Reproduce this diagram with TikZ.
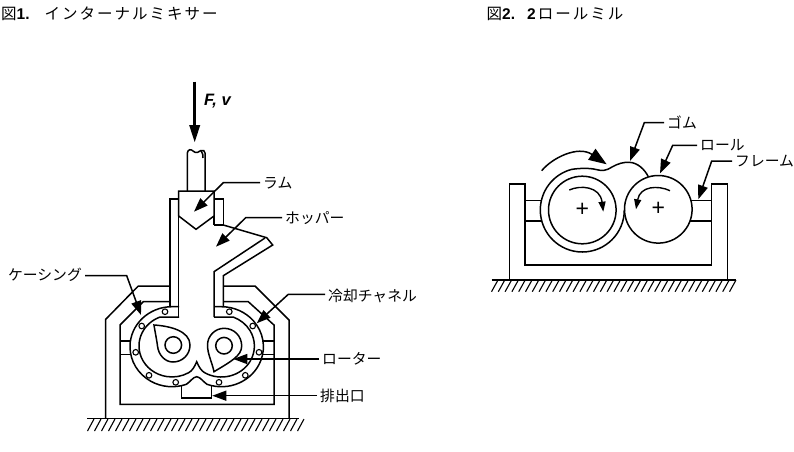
\documentclass[tikz,border=0pt]{standalone}
\usepackage{fontspec}
\setmainfont{Noto Sans CJK JP}
\newfontfamily\latinfont{Liberation Sans}
\newfontfamily\headfont[LetterSpace=13]{Noto Sans CJK JP}
\usetikzlibrary{arrows.meta}
\tikzset{
  part/.style={line width=1.5pt,line join=miter},
  hatchline/.style={line width=1.1pt},
  bolt/.style={line width=1.1pt},
  leader/.style={line width=1.5pt,-{Triangle[length=14pt,width=10pt]}},
  turn/.style={line width=1.4pt,-{Triangle[length=10pt,width=7pt]}},
  labeltext/.style={font=\fontsize{14.8}{17}\selectfont,anchor=west,inner sep=3pt},
  headtext/.style={font=\fontsize{15.5}{18}\selectfont,anchor=west,inner sep=0pt}
}
\begin{document}
\begin{tikzpicture}[x=1pt,y=1pt,yscale=-1]
\useasboundingbox (0,0) rectangle (794,451);

\node[headtext] (headone) at (1,14) {図{\latinfont\bfseries 1.}\hspace{15pt}{\headfont インターナルミキサー}};
\node[headtext] (headtwo) at (486.5,14) {図{\latinfont\bfseries 2.}\hspace{12pt}{\latinfont\bfseries 2}\hspace{2pt}{\headfont ロールミル}};

% mixer: ram and hopper
\coordinate (forcestart) at (194.7,81.7);
\coordinate (forcetip) at (194.7,143);
\draw [line width=3.5pt,-{Triangle[length=18pt,width=10pt]}] (forcestart) -- (forcetip);
\node [font=\latinfont\bfseries\itshape\fontsize{16.5}{18}\selectfont,anchor=west,inner sep=0pt] (forcelabel) at (204,101) {F, v};
\draw [part] (187.3,191) -- (187.3,153) .. controls (188,149) and (191,149) .. (193,151) .. controls (196,154) and (199,152) .. (201,150.5) .. controls (203,149.5) and (205,151) .. (205,153) -- (205,191);
\draw [part] (201,150.5) .. controls (203,153) and (203,156) .. (203,158);
\draw [part] (178.7,216) -- (178.7,191) -- (214,191) -- (214,216) -- (196,229.3) -- cycle;
\draw [part] (178.7,199) -- (170,199) -- (170,306.7);
\draw [part] (178.7,216) -- (178.7,317);
\draw [part] (214,199) -- (223.3,199) -- (223.3,225) -- (214,225);
\draw [part] (214,216) -- (214,225);
\draw [part] (223.3,225) -- (266.7,237.7) -- (272.7,245) -- (223.3,275.7) -- (223.3,306.7);
\draw [part] (265,238) -- (214,271.7) -- (214,317);

% mixer: casing
\draw [part] (170,286) -- (138.3,286) -- (105.7,319.3) -- (105.7,418.7);
\draw [part] (223.3,286) -- (255,286) -- (289,320) -- (289,418.7);
\draw [part] (170,301.7) -- (143.3,301.7) -- (120,325) -- (120,404.3) -- (274,404.3) -- (274,325) -- (248.3,301.7) -- (223.3,301.7);
\draw [part] (120,341) -- (131,341);
\draw [part] (120,354.3) -- (131,354.3);
\draw [part] (263,341) -- (274,341);
\draw [part] (263,354.3) -- (274,354.3);
\draw [part] (179,306.7) -- (172,306.7) arc [start angle=-90,end angle=-290,x radius=42pt,y radius=40pt]
  .. controls (190,382) and (193,377) .. (196.7,376.7) .. controls (200.4,377) and (203.4,382) .. (207.04,384.3)
  arc [start angle=110,end angle=-90,x radius=42pt,y radius=40pt] -- (214,306.7);
\draw [part] (179,317) -- (160.17,317) arc [start angle=-111,end angle=-300,x radius=33pt,y radius=31pt]
  .. controls (192,371) and (194.5,367) .. (196.7,361.7) .. controls (198.9,367) and (201.4,371) .. (204.9,372.85)
  arc [start angle=120,end angle=-69,x radius=33pt,y radius=31pt] -- (214,317);
\draw [part] (181.7,385) -- (181.7,398) -- (211.7,398) -- (211.7,385);

% mixer: bolts
\draw [bolt] (165,311.7) circle (2.8pt);
\draw [bolt] (141.7,326) circle (2.8pt);
\draw [bolt] (135.7,352.3) circle (2.8pt);
\draw [bolt] (149,375.3) circle (2.8pt);
\draw [bolt] (175.7,382.3) circle (2.8pt);
\draw [bolt] (219,382.3) circle (2.8pt);
\draw [bolt] (245.3,375.3) circle (2.8pt);
\draw [bolt] (259,352.3) circle (2.8pt);
\draw [bolt] (252.7,326) circle (2.8pt);
\draw [bolt] (229.3,311.7) circle (2.8pt);

% mixer: rotors
\draw [part] (154,325) .. controls (170,326) and (190,331) .. (190,345) .. controls (190,355) and (182,362) .. (173,362) .. controls (165,362) and (158.5,355) .. (157.5,346) .. controls (156.5,338) and (155,332) .. (154,325) -- cycle;
\draw [part] (173.3,345) circle (8.3pt);
\draw [part] (214,371.7) .. controls (212,362) and (207.5,354) .. (207.5,345) .. controls (207.5,336) and (215,328.3) .. (224,328.3) .. controls (234,328.3) and (241.7,336) .. (241.7,346) .. controls (241.7,356) and (230,362) .. (214,371.7) -- cycle;
\draw [part] (224,345.7) circle (8.3pt);

% ground lines
\draw [part] (87.3,418.7) -- (299.3,418.7);
\foreach \x in {94,101,...,304} \draw [hatchline] (\x,419) -- ++(-6.5,12);
\draw [part] (491.7,280) -- (736,280);
\foreach \x in {498,504.8,...,740} \draw [hatchline] (\x,280) -- ++(-6.5,11.7);

% mixer: labels
\coordinate (ramelbow) at (223.3,182.7);
\coordinate (ramtip) at (194,211.7);
\node [labeltext] (ramlabel) at (260,182.7) {ラム};
\draw [leader] (ramlabel.west) -- (ramelbow) -- (ramtip);
\coordinate (hopperelbow) at (245.7,217.7);
\coordinate (hoppertip) at (216,246.7);
\node [labeltext] (hopperlabel) at (282,217.7) {ホッパー};
\draw [leader] (hopperlabel.west) -- (hopperelbow) -- (hoppertip);
\coordinate (casingelbow) at (126.7,275.7);
\coordinate (casingtip) at (141,315);
\node [labeltext,anchor=east] (casinglabel) at (85,274.5) {ケーシング};
\draw [leader] (casinglabel.east |- casingelbow) -- (casingelbow) -- (casingtip);
\coordinate (coolelbow) at (288.3,294.3);
\coordinate (cooltip) at (256.7,323.3);
\node [labeltext] (coollabel) at (325,296) {冷却チャネル};
\draw [leader] (coollabel.west |- coolelbow) -- (coolelbow) -- (cooltip);
\coordinate (rotortip) at (233.3,359);
\node [labeltext] (rotorlabel) at (319,359) {ローター};
\draw [leader] (rotorlabel.west) -- (rotortip);
\coordinate (outlettip) at (212.3,395.7);
\node [labeltext] (outletlabel) at (317,395.7) {排出口};
\draw [leader] (outletlabel.west) -- (outlettip);

% mill: frame
\draw [part] (509.3,280) -- (509.3,184) -- (525,184) -- (525,265) -- (711.7,265) -- (711.7,184) -- (727.3,184) -- (727.3,280);
\draw [part] (525,200.7) -- (541,200.7);
\draw [part] (525,221) -- (541,221);
\draw [part] (690,200.7) -- (711.7,200.7);
\draw [part] (690,221) -- (711.7,221);

% mill: rolls and rubber
\draw [part] (582.3,210) circle (33.8pt);
\draw [part] (658.3,209.3) circle (33.8pt);
\draw [part] (624.3,210) arc [start angle=0,end angle=255,radius=42pt]
  .. controls (580,168) and (590,168) .. (596,169.5) .. controls (602,171) and (606,171) .. (612,167) .. controls (618,163.5) and (624,162) .. (629,162.3) .. controls (638,162.5) and (645,170) .. (648.3,176.7);
\node [font=\latinfont\fontsize{23}{23}\selectfont,inner sep=0pt] (plusone) at (582.3,210) {+};
\node [font=\latinfont\fontsize{23}{23}\selectfont,inner sep=0pt] (plustwo) at (658.3,209.3) {+};
\coordinate (bigturnstart) at (541.7,170.7);
\coordinate (bigturntip) at (606.7,164.3);
\draw [line width=1.5pt,-{Triangle[length=18pt,width=13pt]}] (bigturnstart) .. controls (552,158) and (578,145) .. (bigturntip);
\draw [turn] (569.3,190) .. controls (580,185) and (600,186) .. (603.3,211.7);
\draw [turn] (670,190.7) .. controls (658,185) and (640,186) .. (636,209.3);

% mill: labels
\coordinate (rubberelbow) at (644.3,122.7);
\coordinate (rubbertip) at (630,161);
\node [labeltext] (rubberlabel) at (664,122.7) {ゴム};
\draw [leader] (rubberlabel.west) -- (rubberelbow) -- (rubbertip);
\coordinate (rollelbow) at (672.7,145.3);
\coordinate (rolltip) at (660,173.3);
\node [labeltext] (rolllabel) at (697,145.3) {ロール};
\draw [leader] (rolllabel.west) -- (rollelbow) -- (rolltip);
\coordinate (frameelbow) at (711.7,161);
\coordinate (frametip) at (698.3,199.3);
\node [labeltext] (framelabel) at (732,161) {フレーム};
\draw [leader] (framelabel.west) -- (frameelbow) -- (frametip);
\end{tikzpicture}
\end{document}
